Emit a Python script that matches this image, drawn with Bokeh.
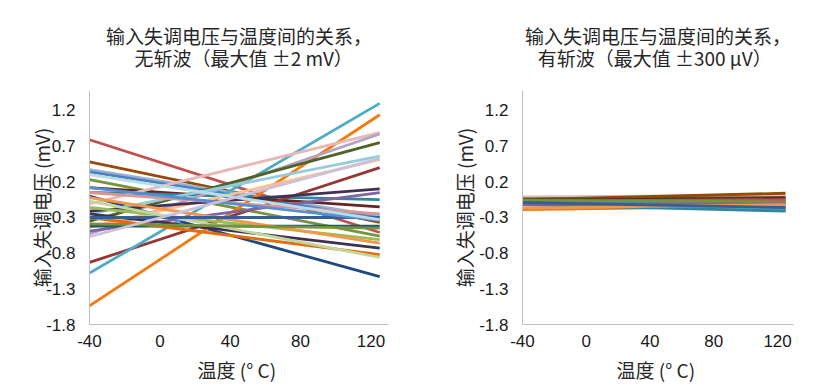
from bokeh.plotting import figure
from bokeh.layouts import row
from bokeh.models import Range1d, FixedTicker, Title, PrintfTickFormatter
from bokeh.embed import file_html
from bokeh.resources import INLINE

# ---- data ----
temps = [-40, 125]
x_ticks = [-40, 0, 40, 80, 120]
y_ticks = [-1.8, -1.3, -0.8, -0.3, 0.2, 0.7, 1.2]

# left panel: offset at -40 C and at 125 C (mV)
left_start = [0.79, 0.48, 0.37, 0.34, 0.23, 0.12, 0.05, 0.00, -0.93, -1.08, -1.54,
              -0.11, -0.53, -0.35, -0.25, -0.44, -0.21, -0.49, -0.42, -0.16, -0.02,
              -0.25, -0.30, -0.07, 0.05, -0.30, 0.12, 0.30, -0.39, -0.57]
left_end = [-0.51, -0.37, -0.28, -0.31, -0.56, -0.15, -0.05, -1.13, 0.40, 1.30, 1.14,
            0.89, 0.87, 0.75, 0.56, 0.51, 0.10, 0.05, -0.42, -0.61, -0.66,
            -0.73, -0.82, -0.86, -0.25, -0.30, -0.34, -0.33, -0.45, 0.53]
left_colors = ["#C0504D", "#984807", "#95B3D7", "#4F81BD", "#77933C", "#632523", "#31859C",
               "#1F497D", "#953735", "#4BACC6", "#F8780E", "#E6B9B8", "#B3A2C7", "#4F6228",
               "#93CDDD", "#FAC090", "#403152", "#8064A2", "#215968", "#9BBB59", "#F79646",
               "#3F3151", "#E46C0A", "#C3D69B", "#D99694", "#366092", "#558ED5", "#B7DEE8",
               "#76923C", "#CCC1DA"]

# right panel
right_start = [-0.01, -0.05, -0.04, -0.06, -0.10, -0.08, -0.11, -0.13, -0.14, -0.15,
               -0.19, -0.12, -0.09, -0.07, -0.06, -0.12, -0.17, -0.09]
right_end = [0.01, 0.04, -0.02, -0.03, -0.07, -0.20, -0.18, -0.12, -0.13, -0.10,
             -0.14, -0.21, -0.09, -0.05, -0.08, -0.11, -0.12, -0.16]
right_colors = ["#E6B9B8", "#984807", "#4F6228", "#632523", "#1F497D", "#215968", "#4BACC6",
                "#C3D69B", "#B3A2C7", "#FAC090", "#F8780E", "#31859C", "#4F81BD", "#C0504D",
                "#77933C", "#8064A2", "#F79646", "#366092"]

title_l1 = "输入失调电压与温度间的关系，"
title_left_l2 = "无斩波（最大值 ±2 mV）"
title_right_l2 = "有斩波（最大值 ±300 µV）"
x_label = "温度 (°  C)"
y_label = "输入失调电压 (mV)"

CJK = "Noto Sans CJK SC"
LAT = "Liberation Sans"


def make_panel(starts, ends, colors, l2, pad, border_left, frame_w, border_right,
               ylab_standoff, title_offset):
    p = figure(frame_width=frame_w, frame_height=234,
               min_border_left=border_left, min_border_right=border_right,
               min_border_top=89, min_border_bottom=58,
               x_range=Range1d(-40, 130), y_range=Range1d(-1.8, 1.48),
               output_backend="svg", toolbar_location=None)
    for s, e, c in zip(starts, ends, colors):
        p.line(temps, [s, e], line_color=c, line_width=2.8)
    # second line padded with non-collapsing spaces so it sits centred under the first
    p.add_layout(Title(text=title_l1 + "\n" + pad + l2, align="center", text_font=CJK,
                       text_font_size="19px", text_font_style="normal",
                       text_color="#262626", text_line_height=0.84,
                       standoff=38, offset=title_offset), "above")
    p.xgrid.visible = False
    p.ygrid.visible = False
    p.outline_line_color = None
    p.background_fill_color = "white"
    p.border_fill_color = "white"
    for ax in (p.xaxis[0], p.yaxis[0]):
        ax.axis_line_color = "#BFBFBF"
        ax.axis_line_width = 1
        ax.major_tick_line_color = None
        ax.minor_tick_line_color = None
        ax.major_tick_out = 0
        ax.major_tick_in = 0
        ax.minor_tick_out = 0
        ax.minor_tick_in = 0
        ax.major_label_text_font = LAT
        ax.major_label_text_font_size = "17px"
        ax.major_label_text_color = "#1a1a1a"
        ax.axis_label_text_font = CJK
        ax.axis_label_text_font_size = "19px"
        ax.axis_label_text_font_style = "normal"
        ax.axis_label_text_color = "#262626"
    p.xaxis.ticker = FixedTicker(ticks=x_ticks)
    p.yaxis.ticker = FixedTicker(ticks=y_ticks)
    p.xaxis.formatter = PrintfTickFormatter(format="%d")
    p.yaxis.formatter = PrintfTickFormatter(format="%.1f")
    p.xaxis.major_label_standoff = 10
    p.yaxis.major_label_standoff = 14
    p.xaxis.axis_label = x_label
    p.yaxis.axis_label = y_label
    p.xaxis.axis_label_standoff = 6
    p.yaxis.axis_label_standoff = ylab_standoff
    return p


left = make_panel(left_start, left_end, left_colors, title_left_l2, "\u3000\u2002",
                  89, 299, 17, -12, -10)
right = make_panel(right_start, right_end, right_colors, title_right_l2, "\u2002\u2006",
                   117, 271, 15, -2, 16)

layout = row(left, right)
open("out.html", "w").write(file_html(layout, INLINE))
